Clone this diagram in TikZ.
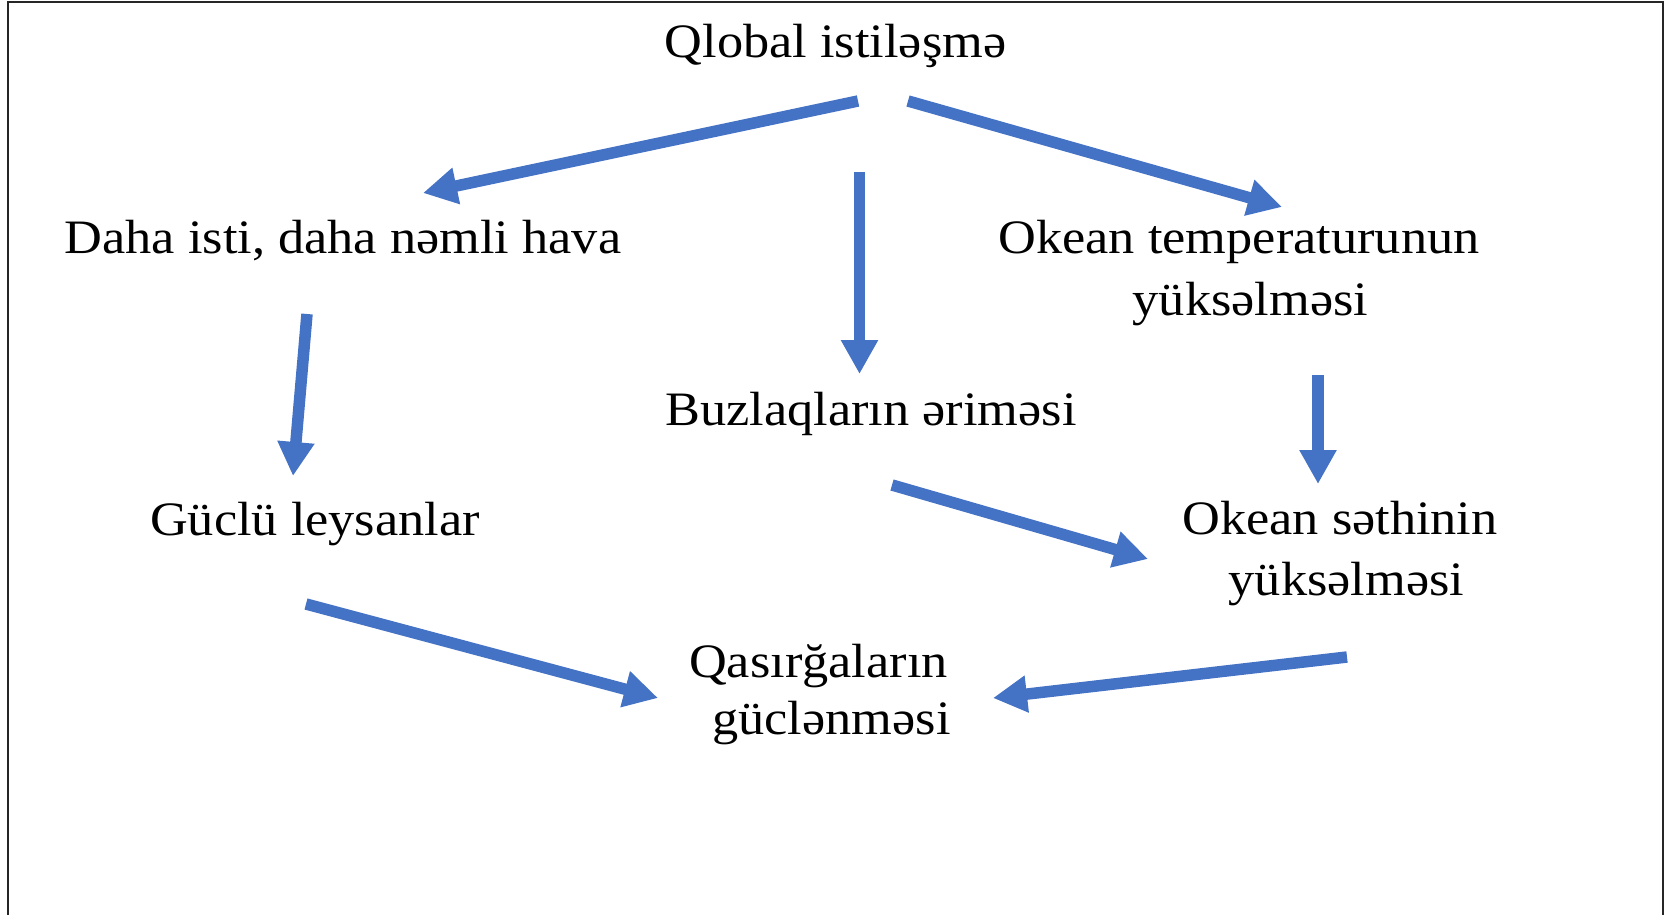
\documentclass[tikz,border=0pt]{standalone}
\usepackage{fontspec}
\setmainfont{Liberation Serif}[FakeStretch=1.09]
\usetikzlibrary{arrows.meta}
\definecolor{arrowblue}{HTML}{4472C4}
\begin{document}
\begin{tikzpicture}[x=1pt,y=-1pt,
  lbl/.style={font=\fontsize{48}{62}\selectfont, anchor=base, inner sep=0pt, align=center},
  flow/.style={draw=arrowblue, line width=11.5pt, -{Triangle[length=34pt,width=35pt]}},
  frame/.style={line width=2pt, black!85}]
\useasboundingbox (0,0) rectangle (1675,915);
\draw[frame] (8,915) -- (8,2) -- (1663,2) -- (1663,915);
% texts (multi-line nodes: base = baseline of the last line)
\node[lbl] (glob) at (835.5,58) {Qlobal istiləşmə};
\node[lbl] (hava) at (343,253) {Daha isti, daha nəmli hava};
\node[lbl] (temp) at (1250.5,315) {Okean temperaturunun\hspace*{23pt}\\yüksəlməsi};
\node[lbl] (buz) at (871,425) {Buzlaqların əriməsi};
\node[lbl] (leys) at (315,535) {Güclü leysanlar};
\node[lbl] (seth) at (1346.5,595) {Okean səthinin\hspace*{13pt}\\[-1pt]yüksəlməsi};
\node[lbl] (qas) at (831.5,734) {Qasırğaların\hspace*{26pt}\\[-5pt]güclənməsi};
% connector ends
\coordinate (glob-l) at (858,101);
\coordinate (hava-in) at (423,193);
\coordinate (glob-r) at (908,101);
\coordinate (temp-in) at (1282,207);
\coordinate (glob-d) at (859.5,172);
\coordinate (buz-in) at (859.5,374);
\coordinate (hava-out) at (307,314);
\coordinate (leys-in) at (293,476);
\coordinate (temp-out) at (1318,375);
\coordinate (seth-top) at (1318,484);
\coordinate (buz-out) at (892,485);
\coordinate (seth-left) at (1148,559);
\coordinate (leys-out) at (306,604);
\coordinate (qas-left) at (658,698);
\coordinate (seth-out) at (1347,657);
\coordinate (qas-right) at (993,698);
% connectors
\draw[flow] (glob-l) -- (hava-in);
\draw[flow] (glob-r) -- (temp-in);
\draw[flow] (glob-d) -- (buz-in);
\draw[flow] (hava-out) -- (leys-in);
\draw[flow] (temp-out) -- (seth-top);
\draw[flow] (buz-out) -- (seth-left);
\draw[flow] (leys-out) -- (qas-left);
\draw[flow] (seth-out) -- (qas-right);
\end{tikzpicture}
\end{document}
